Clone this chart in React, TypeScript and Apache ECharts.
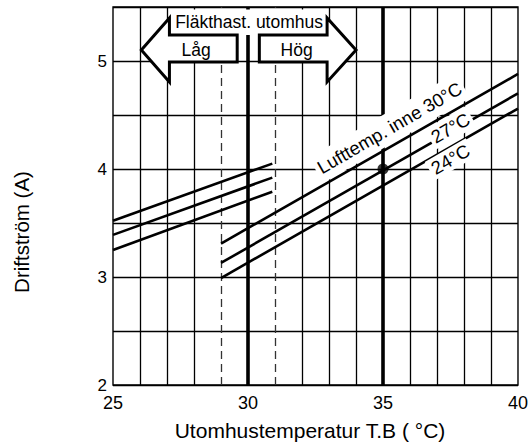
import React, { useEffect, useRef } from "react";
import * as echarts from "echarts";

// Axis ticks
const xTickLabels = [25, 30, 35, 40];
const yTickLabels = [2, 3, 4, 5];

// Vertical reference lines (outdoor temperature, °C)
const gridXThin = [26, 27, 28, 32, 33, 34, 36, 37, 38, 39];
const gridXDashed = [29, 31];
const gridXThick = [30, 35];

// Operating current (A) vs outdoor temperature – low fan speed
const low30 = [[25, 3.52], [30.9, 4.05]];
const low27 = [[25, 3.39], [30.9, 3.92]];
const low24 = [[25, 3.25], [30.9, 3.79]];
// high fan speed
const high30 = [[29, 3.31], [40, 4.88]];
const high27 = [[29, 3.13], [40, 4.7]];
const high24 = [[29, 2.99], [40, 4.56]];

// Marked operating point
const markedPoint = [[35, 4.0]];

// Line labels
const lineLabelTexts = ["Lufttemp. inne 30°C", "27°C", "24°C"];
const lineLabelAt = [[35.24, 4.38], [37.5, 4.38], [37.5, 4.09]];

// Fan speed annotation
const fanTitle = "Fläkthast. utomhus";
const fanLow = "Låg";
const fanHigh = "Hög";

const FONT = '"Liberation Sans", Arial, sans-serif';

export default function App() {
  const ref = useRef<HTMLDivElement>(null);
  useEffect(() => {
    if (!ref.current) return;
    const chart = echarts.init(ref.current, undefined, { renderer: "svg" });
    const lineStyle = { color: "#000", width: 2.6, cap: "butt" };
    const mkLine = (data: number[][], extra: any = {}) => ({
      type: "line",
      data,
      symbol: "none",
      silent: true,
      z: 3,
      lineStyle,
      ...extra,
    });
    const vLines = [
      ...gridXThin.map((x) => ({ xAxis: x, lineStyle: { color: "#000", width: 1.3, type: "solid" } })),
      ...gridXDashed.map((x) => ({ xAxis: x, lineStyle: { color: "#333", width: 1.3, type: [8, 5] } })),
      ...gridXThick.map((x) => ({ xAxis: x, lineStyle: { color: "#000", width: 3.6, type: "solid" } })),
    ];
    const rot = (30 * Math.PI) / 180;
    const labelPadding = [[9, 3, 1, 3], [2, 3, 2, 3], [0, 3, 2, 3]];
    chart.setOption({
      animation: false,
      grid: { left: 113, right: 12, top: 7, bottom: 60, show: true, borderColor: "#000", borderWidth: 1.4, backgroundColor: "#fff" },
      xAxis: {
        type: "value",
        min: 25,
        max: 40,
        interval: 1,
        axisLine: { show: false },
        axisTick: { show: false },
        splitLine: { show: false },
        axisLabel: {
          showMinLabel: true,
          showMaxLabel: true,
          margin: 9,
          fontSize: 18,
          color: "#000",
          fontFamily: FONT,
          formatter: (v: number) => (xTickLabels.includes(v) ? String(v) : ""),
        },
      },
      yAxis: {
        type: "value",
        min: 2,
        max: 5.5,
        interval: 0.5,
        axisLine: { show: false },
        axisTick: { show: false },
        splitLine: { show: true, lineStyle: { color: "#000", width: 1.3 } },
        axisLabel: {
          margin: 6,
          fontSize: 17,
          color: "#000",
          fontFamily: FONT,
          formatter: (v: number) => (yTickLabels.includes(v) ? String(v) : ""),
        },
      },
      graphic: [
        {
          type: "text",
          x: 21,
          y: 232,
          rotation: Math.PI / 2,
          style: { text: "Driftström (A)", font: `20.5px ${FONT}`, align: "center", verticalAlign: "middle", fill: "#000" },
        },
        {
          type: "text",
          x: 310,
          y: 430,
          style: { text: "Utomhustemperatur T.B ( °C)", font: `21px ${FONT}`, align: "center", verticalAlign: "middle", fill: "#000" },
        },
      ],
      series: [
        mkLine([], {
          markLine: { silent: true, symbol: "none", label: { show: false }, z: 2, data: vLines },
        }),
        mkLine(low30),
        mkLine(low27),
        mkLine(low24),
        mkLine(high30),
        mkLine(high27),
        mkLine(high24),
        {
          type: "custom",
          z: 6,
          silent: true,
          clip: false,
          data: lineLabelAt.map((p, i) => ({ value: p, name: lineLabelTexts[i] })),
          renderItem: (params: any, api: any) => {
            const p = api.coord([api.value(0), api.value(1)]);
            return {
              type: "text",
              x: p[0],
              y: p[1],
              rotation: rot,
              style: {
                text: lineLabelTexts[params.dataIndex],
                font: `18.5px ${FONT}`,
                align: "center",
                verticalAlign: "middle",
                fill: "#000",
                backgroundColor: "#fff",
                padding: labelPadding[params.dataIndex],
              },
            };
          },
        },
        {
          type: "scatter",
          data: markedPoint,
          symbolSize: 11,
          itemStyle: { color: "#000" },
          silent: true,
          z: 8,
        },
        {
          type: "custom",
          z: 7,
          silent: true,
          clip: false,
          data: [[30, 5.1]],
          renderItem: (_params: any, api: any) => {
            const c = (p: number[]) => api.coord(p);
            const leftArrow = [
              [26.05, 5.102], [27.09, 5.398], [27.09, 5.241], [29.6, 5.241],
              [29.6, 4.991], [27.09, 4.991], [27.09, 4.806],
            ].map(c);
            const rightArrow = [
              [34.0, 5.102], [32.93, 5.398], [32.93, 5.241], [30.42, 5.241],
              [30.42, 4.991], [32.93, 4.991], [32.93, 4.806],
            ].map(c);
            const b1 = c([27.09, 5.477]);
            const b2 = c([32.93, 5.241]);
            const tTitle = c([30.04, 5.361]);
            const tLow = c([28.08, 5.102]);
            const tHigh = c([31.8, 5.102]);
            const arrowStyle = { fill: "#fff", stroke: "#000", lineWidth: 3, lineJoin: "miter" };
            const txt = (p: number[], s: string) => ({
              type: "text",
              x: p[0],
              y: p[1],
              style: { text: s, font: `17.5px ${FONT}`, align: "center", verticalAlign: "middle", fill: "#000" },
            });
            return {
              type: "group",
              children: [
                { type: "rect", shape: { x: b1[0], y: b1[1], width: b2[0] - b1[0], height: b2[1] - b1[1] }, style: { fill: "#fff" } },
                { type: "polygon", shape: { points: leftArrow }, style: arrowStyle },
                { type: "polygon", shape: { points: rightArrow }, style: arrowStyle },
                txt(tTitle, fanTitle),
                txt(tLow, fanLow),
                txt(tHigh, fanHigh),
              ],
            };
          },
        },
      ],
    });
    return () => chart.dispose();
  }, []);
  return <div ref={ref} style={{ position: "fixed", left: 0, top: 0, width: 531, height: 445, background: "#fff" }} />;
}
